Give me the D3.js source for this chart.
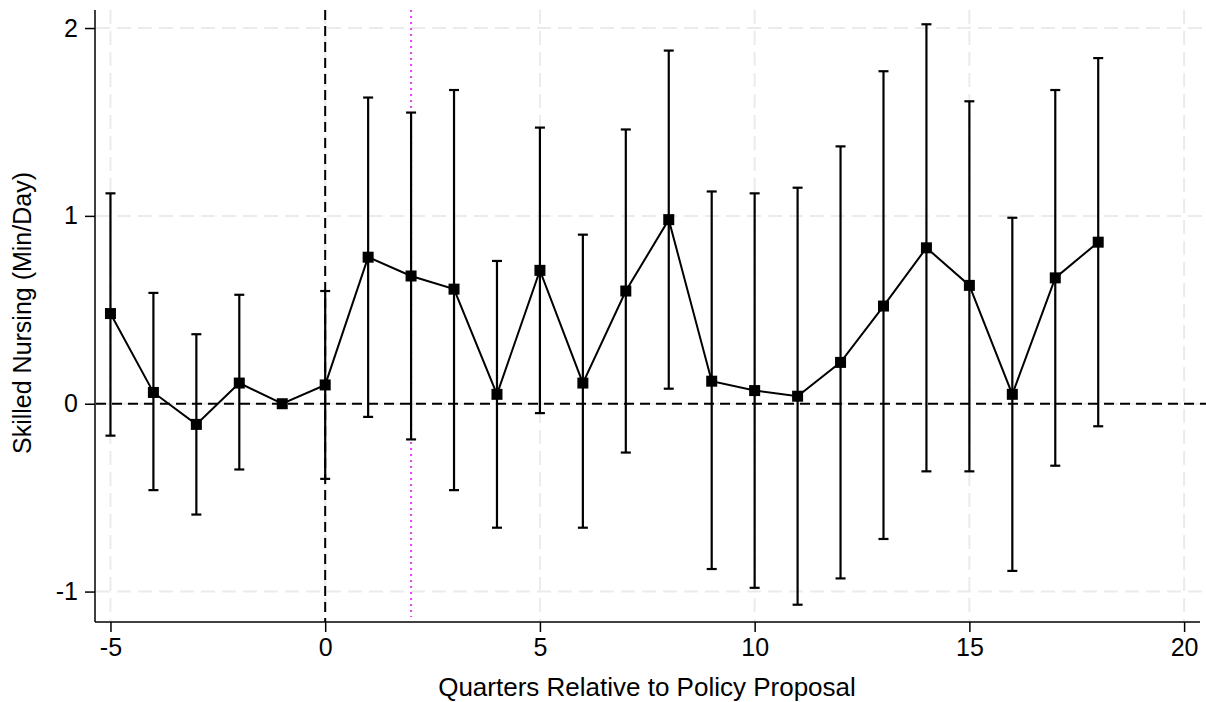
<!DOCTYPE html>
<html lang="en">
<head>
	<meta charset="utf-8">
	<title>Skilled nursing event study</title>
	<script src="https://d3js.org/d3.v7.min.js"></script>
	<style>
		body { margin: 0; background: #fff; }
		text { font-family: "Liberation Sans", Arial, Helvetica, sans-serif; fill: #000; }
	</style>
</head>
<body>
	<script>

	// quarters relative to proposal, point estimates and 95% CI bounds
	var quarters = [-5, -4, -3, -2, -1, 0, 1, 2, 3, 4, 5, 6, 7, 8, 9, 10, 11, 12, 13, 14, 15, 16, 17, 18];
	var estimate = [0.48, 0.06, -0.11, 0.11, 0.00, 0.10, 0.78, 0.68, 0.61, 0.05, 0.71, 0.11, 0.60, 0.98, 0.12, 0.07, 0.04, 0.22, 0.52, 0.83, 0.63, 0.05, 0.67, 0.86];
	var lower    = [-0.17, -0.46, -0.59, -0.35, null, -0.40, -0.07, -0.19, -0.46, -0.66, -0.05, -0.66, -0.26, 0.08, -0.88, -0.98, -1.07, -0.93, -0.72, -0.36, -0.36, -0.89, -0.33, -0.12];
	var upper    = [1.12, 0.59, 0.37, 0.58, null, 0.60, 1.63, 1.55, 1.67, 0.76, 1.47, 0.90, 1.46, 1.88, 1.13, 1.12, 1.15, 1.37, 1.77, 2.02, 1.61, 0.99, 1.67, 1.84];

	var xTicks = [-5, 0, 5, 10, 15, 20];
	var yTicks = [-1, 0, 1, 2];
	var eventQuarter = 0,
		policyQuarter = 2;

	var width = 1206,
		height = 702;

	var x = d3.scaleLinear()
		.domain([-5.36, 20.37])
		.range([95, 1200]);

	var y = d3.scaleLinear()
		.domain([-1.162, 2.096])
		.range([622, 10]);

	var svg = d3.select("body")
		.append("svg")
		.attr("width", width)
		.attr("height", height);

	// light dashed grid
	svg.append("g").selectAll("line")
		.data(yTicks)
		.enter().append("line")
		.attr("x1", 96).attr("x2", 1206)
		.attr("y1", function(d) { return y(d); })
		.attr("y2", function(d) { return y(d); })
		.attr("stroke", "#ebebeb")
		.attr("stroke-width", 2)
		.attr("stroke-dasharray", "14,7");

	svg.append("g").selectAll("line")
		.data(xTicks)
		.enter().append("line")
		.attr("x1", function(d) { return x(d); })
		.attr("x2", function(d) { return x(d); })
		.attr("y1", 10).attr("y2", 621)
		.attr("stroke", "#ebebeb")
		.attr("stroke-width", 2)
		.attr("stroke-dasharray", "14,7");

	// reference lines
	svg.append("line")
		.attr("x1", 96).attr("x2", 1206)
		.attr("y1", y(0)).attr("y2", y(0))
		.attr("stroke", "#000")
		.attr("stroke-width", 2)
		.attr("stroke-dasharray", "10,6");

	svg.append("line")
		.attr("x1", x(eventQuarter)).attr("x2", x(eventQuarter))
		.attr("y1", 10).attr("y2", 622)
		.attr("stroke", "#000")
		.attr("stroke-width", 2)
		.attr("stroke-dasharray", "10,6");

	svg.append("line")
		.attr("x1", x(policyQuarter)).attr("x2", x(policyQuarter))
		.attr("y1", 10).attr("y2", 617)
		.attr("stroke", "#f040f0")
		.attr("stroke-width", 2)
		.attr("stroke-dasharray", "2,4");

	// axes (plain hyphen for negatives, as in the original)
	var fmt = function(d) { return String(d); };
	var xAxis = d3.axisBottom(x).tickValues(xTicks).tickFormat(fmt).tickSize(10).tickPadding(6);
	var yAxis = d3.axisLeft(y).tickValues(yTicks).tickFormat(fmt).tickSize(10).tickPadding(7);

	var gx = svg.append("g")
		.attr("transform", "translate(0,622)")
		.call(xAxis);
	gx.select(".domain").attr("d", "M95,0H1200").attr("stroke-width", 1.5);

	var gy = svg.append("g")
		.attr("transform", "translate(95,0)")
		.call(yAxis);
	gy.select(".domain").attr("d", "M0,10V622").attr("stroke-width", 1.5);

	svg.selectAll(".tick line").attr("stroke-width", 1.5);
	svg.selectAll(".tick text")
		.style("font-size", "25px")
		.attr("font-family", null);

	// error bars
	var rows = quarters.map(function(q, i) {
		return { q: q, est: estimate[i], lo: lower[i], hi: upper[i] };
	});
	var bars = rows.filter(function(d) { return d.lo !== null; });

	var eb = svg.append("g").attr("stroke", "#000").attr("stroke-width", 2.2);
	eb.selectAll(".stem")
		.data(bars)
		.enter().append("line")
		.attr("x1", function(d) { return x(d.q); })
		.attr("x2", function(d) { return x(d.q); })
		.attr("y1", function(d) { return y(d.lo); })
		.attr("y2", function(d) { return y(d.hi); });
	eb.selectAll(".capHi")
		.data(bars)
		.enter().append("line")
		.attr("x1", function(d) { return x(d.q) - 5; })
		.attr("x2", function(d) { return x(d.q) + 5; })
		.attr("y1", function(d) { return y(d.hi); })
		.attr("y2", function(d) { return y(d.hi); });
	eb.selectAll(".capLo")
		.data(bars)
		.enter().append("line")
		.attr("x1", function(d) { return x(d.q) - 5; })
		.attr("x2", function(d) { return x(d.q) + 5; })
		.attr("y1", function(d) { return y(d.lo); })
		.attr("y2", function(d) { return y(d.lo); });

	// connecting line and markers
	var line = d3.line()
		.x(function(d) { return x(d.q); })
		.y(function(d) { return y(d.est); });

	svg.append("path")
		.datum(rows)
		.attr("d", line)
		.attr("fill", "none")
		.attr("stroke", "#000")
		.attr("stroke-width", 2);

	svg.append("g").selectAll("rect")
		.data(rows)
		.enter().append("rect")
		.attr("x", function(d) { return x(d.q) - 5.5; })
		.attr("y", function(d) { return y(d.est) - 5.5; })
		.attr("width", 11)
		.attr("height", 11)
		.attr("fill", "#000");

	// titles
	svg.append("text")
		.attr("x", 647)
		.attr("y", 696)
		.attr("text-anchor", "middle")
		.style("font-size", "26px")
		.text("Quarters Relative to Policy Proposal");

	svg.append("text")
		.attr("transform", "translate(31,313) rotate(-90)")
		.attr("text-anchor", "middle")
		.style("font-size", "25px")
		.text("Skilled Nursing (Min/Day)");

	</script>
</body>
</html>
